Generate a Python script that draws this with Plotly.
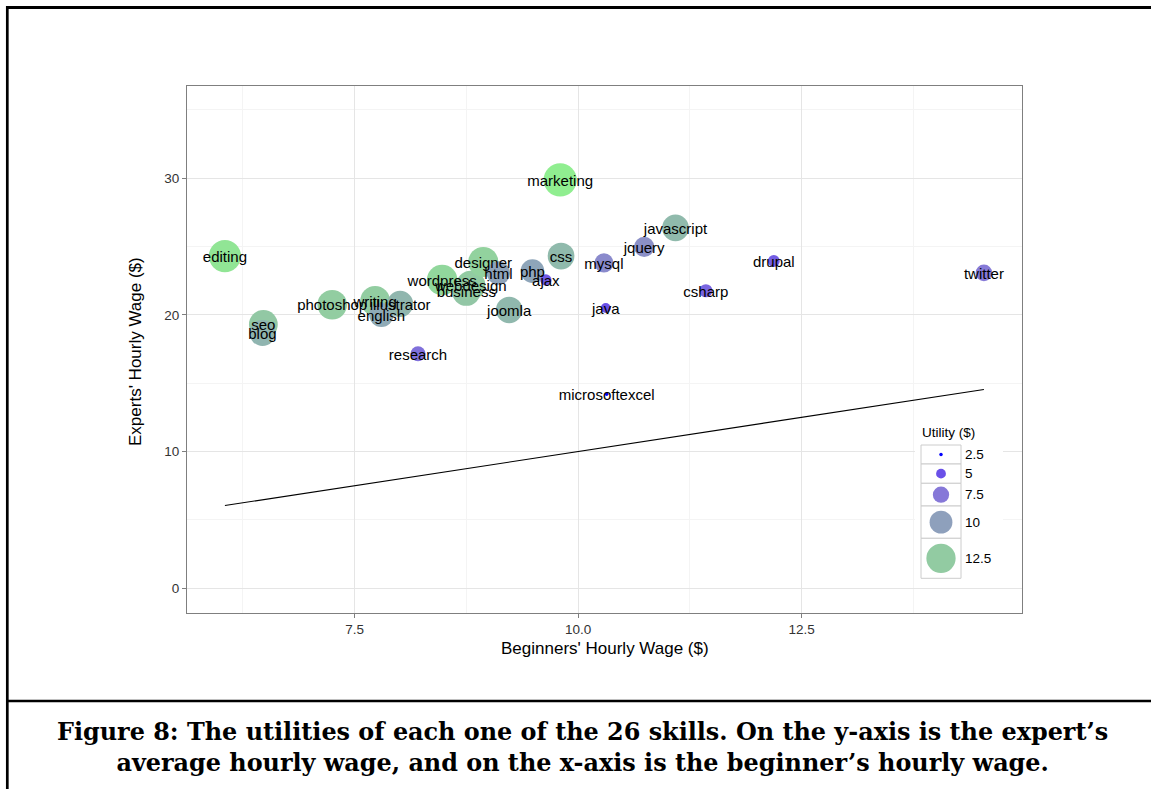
import plotly.graph_objects as go

# ---------------- data ----------------
skills = ["editing", "seo", "blog", "photoshop", "writing", "english", "illustrator",
          "research", "wordpress", "business", "webdesign", "designer", "html", "joomla",
          "php", "ajax", "marketing", "css", "mysql", "java", "microsoftexcel", "jquery",
          "javascript", "csharp", "drupal", "twitter"]
beginner_wage = [6.05, 6.48, 6.47, 7.25, 7.73, 7.80, 8.01,
                 8.21, 8.48, 8.75, 8.80, 8.94, 9.11, 9.23,
                 9.49, 9.64, 9.80, 9.81, 10.29, 10.31, 10.32, 10.74,
                 11.09, 11.43, 12.19, 14.54]
expert_wage = [24.30, 19.30, 18.67, 20.74, 21.03, 20.00, 20.80,
               17.15, 22.55, 21.70, 22.15, 23.87, 23.06, 20.36,
               23.20, 22.55, 29.87, 24.30, 23.80, 20.50, 14.20, 24.97,
               26.36, 21.76, 23.94, 23.07]
utility = [13.6, 12.3, 11.2, 12.6, 12.6, 10.6, 11.3,
           7.0, 13.0, 12.2, 12.5, 12.8, 10.2, 11.4,
           10.3, 5.6, 14.0, 11.5, 8.6, 5.0, 2.4, 9.0,
           11.5, 6.3, 5.8, 7.6]

legend_values = [2.5, 5.0, 7.5, 10.0, 12.5]
legend_labels = ["2.5", "5", "7.5", "10", "12.5"]
x_ticks = [7.5, 10.0, 12.5]
x_tick_labels = ["7.5", "10.0", "12.5"]
y_ticks = [0, 10, 20, 30]
y_tick_labels = ["0", "10", "20", "30"]

x_title = "Beginners' Hourly Wage ($)"
y_title = "Experts' Hourly Wage ($)"
legend_title = "Utility ($)"
caption = ("Figure 8: The utilities of each one of the 26 skills. On the y-axis is the expert\u2019s"
           "<br>average hourly wage, and on the x-axis is the beginner\u2019s hourly wage.")

# ---------------- styling helpers ----------------
W, H = 1151, 789
FONT = "Liberation Sans, Arial, Helvetica, sans-serif"


def fx(p):
    return p / W


def fy(p):
    return 1 - p / H


CMIN, CMAX = 2.4, 14.0
stops = [(0.0, (0, 0, 255)), (0.224, (106, 80, 232)), (0.44, (134, 120, 216)),
         (0.655, (142, 160, 188)), (0.871, (146, 203, 162)), (1.0, (144, 238, 144))]
colorscale = [[s, "rgb(%d,%d,%d)" % c] for s, c in stops]


def color_of(v):
    t = (v - CMIN) / (CMAX - CMIN)
    t = max(0.0, min(1.0, t))
    for (s0, c0), (s1, c1) in zip(stops[:-1], stops[1:]):
        if s0 <= t <= s1:
            f = (t - s0) / (s1 - s0) if s1 > s0 else 0
            c = [round(a + (b - a) * f) for a, b in zip(c0, c1)]
            return "rgb(%d,%d,%d)" % tuple(c)
    return "rgb(%d,%d,%d)" % stops[-1][1]


def diam(v):
    return max(3.5, 2.6 * v - 3.2)


Y_RANGE = [-1.81, 36.74]
PX_PER_Y = (613 - 86) / (Y_RANGE[1] - Y_RANGE[0])
TEXT_DROP_PX = 2.0  # labels sit ~2px lower than the point centre (ggplot text centring)
y_text_range = [Y_RANGE[0] + TEXT_DROP_PX / PX_PER_Y, Y_RANGE[1] + TEXT_DROP_PX / PX_PER_Y]

# ---------------- figure ----------------
fig = go.Figure()

# y = x reference line across the beginners' wage range
lx = [min(beginner_wage), max(beginner_wage)]
fig.add_trace(go.Scatter(x=lx, y=lx, mode="lines",
                         line=dict(color="black", width=1.1),
                         hoverinfo="skip", showlegend=False))

fig.add_trace(go.Scatter(
    x=beginner_wage, y=expert_wage, mode="markers",
    marker=dict(size=[diam(v) for v in utility], color=utility,
                coloraxis="coloraxis", line=dict(width=0), opacity=1),
    text=skills, showlegend=False))

fig.add_trace(go.Scatter(
    x=beginner_wage, y=expert_wage, mode="text", text=skills, yaxis="y2",
    textposition="middle center",
    textfont=dict(family=FONT, size=15, color="black"),
    showlegend=False, hoverinfo="skip"))

axis_common = dict(
    showline=True, mirror=True, linecolor="#7f7f7f", linewidth=1.2,
    ticks="outside", ticklen=4, tickwidth=1, tickcolor="#7f7f7f",
    showgrid=True, gridcolor="#e5e5e5", gridwidth=1, zeroline=False,
    tickfont=dict(family=FONT, size=13.5, color="#333333"),
)

fig.update_layout(
    width=W, height=H,
    margin=dict(l=0, r=0, t=0, b=0),
    paper_bgcolor="white", plot_bgcolor="white",
    showlegend=False,
    coloraxis=dict(colorscale=colorscale, cmin=CMIN, cmax=CMAX, showscale=False),
    xaxis=dict(domain=[fx(187), fx(1022)], range=[5.626, 14.966],
               tickmode="array", tickvals=x_ticks, ticktext=x_tick_labels,
               minor=dict(dtick=1.25, tick0=0, showgrid=True, gridcolor="#f4f4f4", ticks=""),
               **axis_common),
    yaxis=dict(domain=[fy(613), fy(86)], range=Y_RANGE,
               tickmode="array", tickvals=y_ticks, ticktext=y_tick_labels,
               minor=dict(dtick=5, tick0=0, showgrid=True, gridcolor="#f4f4f4", ticks=""),
               **axis_common),
    yaxis2=dict(overlaying="y", range=y_text_range, visible=False,
                showgrid=False, zeroline=False),
)

shapes = []
# outer frame of the figure page
shapes.append(dict(type="line", xref="paper", yref="paper", x0=fx(6), x1=1, y0=fy(7.5), y1=fy(7.5),
                   line=dict(color="black", width=3)))
shapes.append(dict(type="line", xref="paper", yref="paper", x0=fx(7.3), x1=fx(7.3), y0=fy(6), y1=0,
                   line=dict(color="black", width=2.7)))
shapes.append(dict(type="line", xref="paper", yref="paper", x0=fx(6), x1=1, y0=fy(701), y1=fy(701),
                   line=dict(color="black", width=2.5)))

# legend background and keys
shapes.append(dict(type="rect", xref="paper", yref="paper", layer="above",
                   x0=fx(915), x1=fx(1003), y0=fy(424), y1=fy(584),
                   fillcolor="white", line=dict(width=0)))
row_edges = [445, 464, 483.3, 506, 538.3, 578.3]
kx0, kx1 = 921, 961
annotations = []
for i, (v, lab) in enumerate(zip(legend_values, legend_labels)):
    r0, r1 = row_edges[i], row_edges[i + 1]
    shapes.append(dict(type="rect", xref="paper", yref="paper", layer="above",
                       x0=fx(kx0), x1=fx(kx1), y0=fy(r1), y1=fy(r0),
                       fillcolor="white", line=dict(color="#cccccc", width=1)))
    d = diam(v)
    cx, cy = (kx0 + kx1) / 2, (r0 + r1) / 2
    shapes.append(dict(type="circle", xref="paper", yref="paper", layer="above",
                       xsizemode="pixel", ysizemode="pixel",
                       xanchor=fx(cx), yanchor=fy(cy),
                       x0=-d / 2, x1=d / 2, y0=-d / 2, y1=d / 2,
                       fillcolor=color_of(v), line=dict(width=0)))
    annotations.append(dict(xref="paper", yref="paper", x=fx(963), y=fy(cy),
                            xanchor="left", yanchor="middle", showarrow=False,
                            text=lab, font=dict(family=FONT, size=13.5, color="black")))

annotations.append(dict(xref="paper", yref="paper", x=fx(920), y=fy(433),
                        xanchor="left", yanchor="middle", showarrow=False,
                        text=legend_title, font=dict(family=FONT, size=13.5, color="black")))

# axis titles
annotations.append(dict(xref="paper", yref="paper", x=fx(604.5), y=fy(648),
                        xanchor="center", yanchor="middle", showarrow=False,
                        text=x_title, font=dict(family=FONT, size=17, color="black")))
annotations.append(dict(xref="paper", yref="paper", x=fx(135), y=fy(352),
                        xanchor="center", yanchor="middle", showarrow=False, textangle=-90,
                        text=y_title, font=dict(family=FONT, size=17, color="black")))

# caption
annotations.append(dict(xref="paper", yref="paper", x=fx(582), y=fy(747),
                        xanchor="center", yanchor="middle", showarrow=False,
                        text="<b>" + caption + "</b>",
                        font=dict(family="DejaVu Serif, serif", size=23.9, color="black")))

fig.update_layout(shapes=shapes, annotations=annotations)

# remove the default page margin so the 1151x789 figure fills the window exactly
fig.write_html("out.html", config={"displayModeBar": False},
               post_script="document.body.style.margin='0';")
